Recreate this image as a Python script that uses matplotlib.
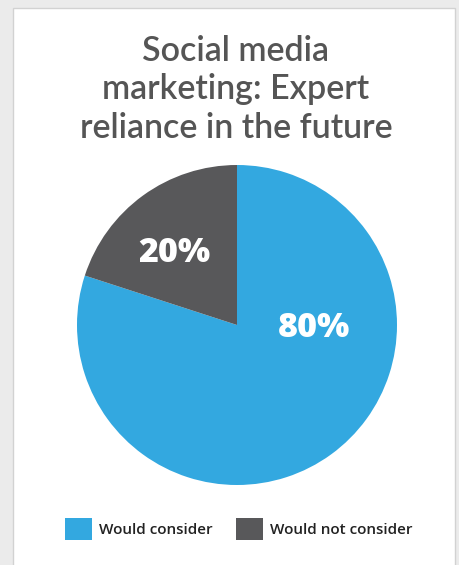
import matplotlib.pyplot as plt
from matplotlib import patches

labels = ["Would consider", "Would not consider"]
shares = [80, 20]
colors = ["#33a8e0", "#58585a"]
title = "Social media\nmarketing: Expert\nreliance in the future"

W, H = 459, 565


def px(x, y):
    """Pixel (from top-left) to figure fraction."""
    return x / W, 1 - y / H


fig = plt.figure(figsize=(W / 100, H / 100), dpi=100)
fig.patch.set_facecolor("#ebebeb")

# white card
card = patches.Rectangle(px(13, 600), (455 - 13) / W, (600 - 8) / H,
                         transform=fig.transFigure, facecolor="white",
                         edgecolor="#d2d2d2", linewidth=1.0, zorder=-10)
fig.patches.append(card)

fig.text(236 / W, 1 - 89 / H, title, ha="center", va="center",
         fontsize=24.5, family="Lato", fontweight="semibold",
         color="#555555", linespacing=1.25)

ax = fig.add_axes([77 / W, 1 - 485 / H, 320 / W, 320 / H])
wedges, _ = ax.pie(shares, colors=colors, startangle=90 + 360 * shares[1] / 100,
                   counterclock=True, radius=1)
ax.set_xlim(-1, 1)
ax.set_ylim(-1, 1)
ax.set_aspect("equal")
ax.axis("off")

ax.text(0.48, -0.02, f"{shares[0]}%", ha="center", va="center", color="white",
        fontsize=24.5, fontweight="heavy", family="Open Sans")
ax.text(-0.39, 0.45, f"{shares[1]}%", ha="center", va="center", color="white",
        fontsize=24.5, fontweight="heavy", family="Open Sans")

handles = [patches.Patch(facecolor=c, edgecolor="none") for c in colors]
fig.legend(handles, labels, loc="center", bbox_to_anchor=(239 / W, 1 - 529 / H),
           ncol=2, frameon=False, handlelength=1.75, handleheight=1.75,
           handletextpad=0.5, columnspacing=1.5, labelcolor="#222222",
           prop={"family": "Open Sans", "weight": "semibold", "size": 11})

fig.savefig("out.png", dpi=100, facecolor=fig.get_facecolor())
